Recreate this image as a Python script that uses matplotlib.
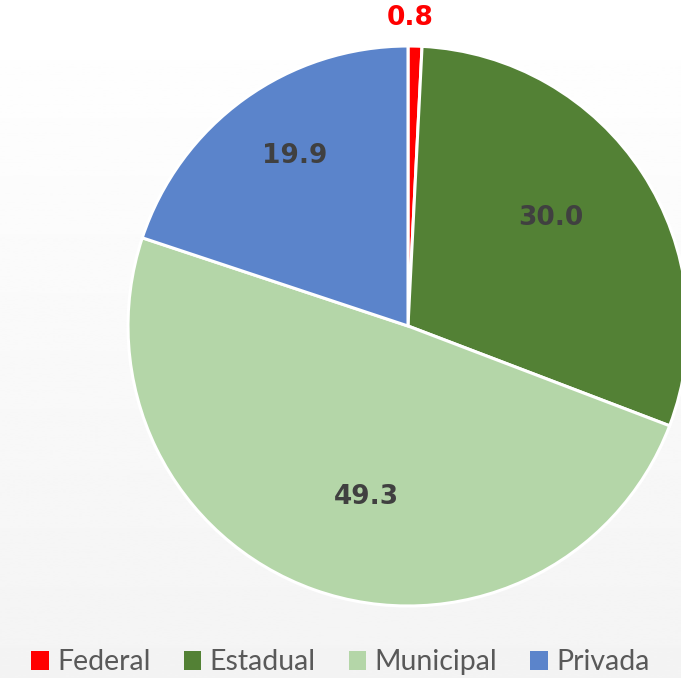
import matplotlib.pyplot as plt
import numpy as np
from matplotlib.patches import Patch

# Data
categories = ['Federal', 'Estadual', 'Municipal', 'Privada']
values = [0.8, 30.0, 49.3, 19.9]
colors = ['#ff0000', '#538135', '#b4d6a8', '#5b84cb']
label_colors = ['#ff0000', '#404040', '#404040', '#404040']
# label placement: radial distance (fraction of radius) and angle nudge (deg)
label_dist = [1.1, 0.64, 0.63, 0.73]
label_nudge = [1.0, 4.0, 6.0, -2.0]

W, H = 681, 678
fig = plt.figure(figsize=(W / 100, H / 100), dpi=100)
ax = fig.add_axes([0, 0, 1, 1])
ax.set_xlim(0, W)
ax.set_ylim(0, H)
ax.set_aspect('equal')
ax.axis('off')

# Subtle background gradient (white at top, light gray at bottom)
grad = np.linspace(0.955, 1.0, 256).reshape(-1, 1)
ax.imshow(grad, extent=[0, W, 0, H], origin='lower', cmap='gray', vmin=0, vmax=1,
          aspect='auto', zorder=0)

center = (408, H - 326)
radius = 280
wedges, texts, autotexts = ax.pie(values, colors=colors, startangle=90, counterclock=False,
                                  center=center, radius=radius, autopct='%.1f',
                                  wedgeprops=dict(edgecolor='white', linewidth=2.2),
                                  textprops=dict(fontsize=19, fontweight='bold',
                                                 family='DejaVu Sans'))
ax.set_xlim(0, W)
ax.set_ylim(0, H)

for w, t, c, d, n in zip(wedges, autotexts, label_colors, label_dist, label_nudge):
    t.set_color(c)
    ang = np.deg2rad((w.theta1 + w.theta2) / 2 + n)
    t.set_position((center[0] + d * radius * np.cos(ang),
                    center[1] + d * radius * np.sin(ang)))

handles = [Patch(facecolor=c) for c in colors]
leg = fig.legend(handles, categories, loc='lower center', bbox_to_anchor=(0.5, -0.034), ncol=4,
                 frameon=False, handlelength=0.62, handleheight=0.62, handletextpad=0.3,
                 columnspacing=1.15, prop=dict(family='Lato', size=20.5))
for t in leg.get_texts():
    t.set_color('#595959')

plt.savefig('out.png', dpi=100)
